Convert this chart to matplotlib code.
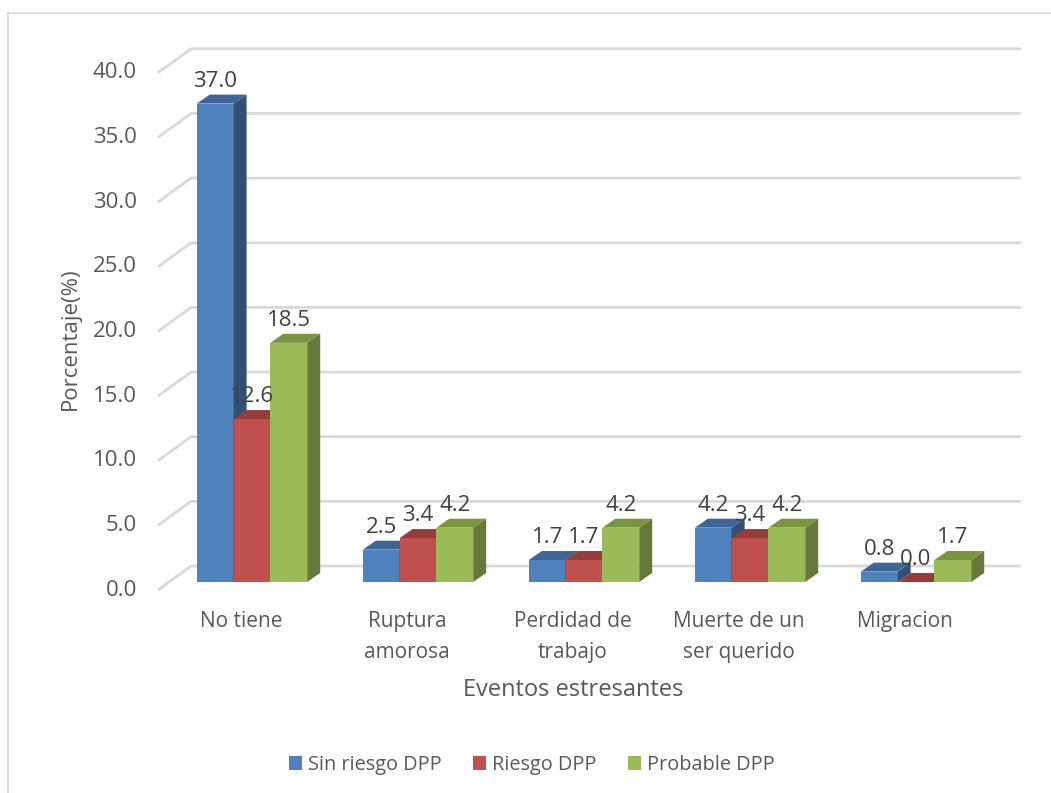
import matplotlib
matplotlib.use('Agg')
import matplotlib.pyplot as plt
from matplotlib.patches import Polygon, Patch
from matplotlib.lines import Line2D

# data
CATEGORIES = ['No tiene', 'Ruptura\namorosa', 'Perdidad de\ntrabajo',
              'Muerte de un\nser querido', 'Migracion']
SERIES = ['Sin riesgo DPP', 'Riesgo DPP', 'Probable DPP']
SIN_RIESGO = [37.0, 2.5, 1.7, 4.2, 0.8]
RIESGO = [12.6, 3.4, 1.7, 3.4, 0.0]
PROBABLE = [18.5, 4.2, 4.2, 4.2, 1.7]
YTICKS = [0, 5, 10, 15, 20, 25, 30, 35, 40]

# colours: front, top, side
C_BLUE = ('#4F81BD', '#3D6697', '#324F74')
C_RED = ('#C0504D', '#963C3A', '#86332F')
C_GREEN = ('#9BBB59', '#7A9440', '#66793A')
TXT = '#595959'
GRID = '#D9D9D9'
FONT = ['Open Sans', 'DejaVu Sans']

plt.rcParams['font.family'] = FONT

W, H = 1051, 793
fig = plt.figure(figsize=(W / 100, H / 100), dpi=100)
ax = fig.add_axes([0, 0, 1, 1])

# scale: 1 category = 166 px, 1 unit = 12.93 px
PXX = 1 / 166.0
PXY = 1 / 12.93
ax.set_xlim(-241 * PXX, (W - 241) * PXX)
ax.set_ylim(-(H - 590) * PXY, 590 * PXY)
ax.axis('off')

# 3D offsets (in data units)
BACK_DX, BACK_DY = 33 * PXX, 24 * PXY
FRONT_DX, FRONT_DY = 11 * PXX, 8 * PXY
SIDE_DX, SIDE_DY = 13 * PXX, 9 * PXY
BAR_W = 36.8 * PXX

n = len(CATEGORIES)
x_left, x_right = -0.5, n - 0.5

# walls / gridlines
for v in YTICKS:
    ax.plot([x_left, x_left + BACK_DX, x_right + BACK_DX],
            [v, v + BACK_DY, v + BACK_DY], color=GRID, lw=2, zorder=1,
            solid_capstyle='butt')
    ax.text(x_left - 21 * PXX, v, f'{v:.1f}', ha='right', va='center',
            fontsize=16, color=TXT)


def bar3d(x0, v, colors):
    front, top, side = colors
    xa = x0 + FRONT_DX
    xb = xa + BAR_W
    y0 = FRONT_DY
    y1 = v + FRONT_DY
    ax.add_patch(Polygon([(xa, y0), (xb, y0), (xb, y1), (xa, y1)],
                         closed=True, fc=front, ec='none', zorder=3))
    ax.add_patch(Polygon([(xb, y0), (xb + SIDE_DX, y0 + SIDE_DY),
                          (xb + SIDE_DX, y1 + SIDE_DY), (xb, y1)],
                         closed=True, fc=side, ec='none', zorder=3))
    ax.add_patch(Polygon([(xa, y1), (xb, y1), (xb + SIDE_DX, y1 + SIDE_DY),
                          (xa + SIDE_DX, y1 + SIDE_DY)],
                         closed=True, fc=top, ec='none', zorder=3))
    return (xa + xb) / 2, y1 + SIDE_DY


series_vals = [SIN_RIESGO, RIESGO, PROBABLE]
series_cols = [C_BLUE, C_RED, C_GREEN]
labels = []
for i in range(n):
    for k, (vals, cols) in enumerate(zip(series_vals, series_cols)):
        x0 = i - 1.5 * BAR_W + k * BAR_W
        cx, ytop = bar3d(x0, vals[i], cols)
        labels.append((cx, ytop, vals[i]))

for cx, ytop, v in labels:
    ax.annotate(f'{v:.1f}', (cx, ytop), xytext=(0, 2), textcoords='offset points',
                ha='center', va='bottom', fontsize=16, color='#404040', zorder=5)

# category labels
for i, c in enumerate(CATEGORIES):
    ax.text(i, -(611 - 590) * PXY, c, ha='center', va='top', fontsize=15,
            color=TXT, linespacing=1.6)

ax.text(2, -(690 - 590) * PXY, 'Eventos estresantes', ha='center', va='center',
        fontsize=17, color=TXT)
ax.text(-(241 - 70) * PXX, (590 - 339) * PXY, 'Porcentaje(%)', rotation=90,
        ha='center', va='center', fontsize=16, color=TXT)

# legend
handles = [Patch(fc=c[0], ec='none') for c in series_cols]
fig.legend(handles, SERIES, loc='center', bbox_to_anchor=(532 / W, 1 - 765 / H),
           ncol=3, frameon=False, fontsize=14.3, labelcolor=TXT,
           handlelength=0.65, handleheight=0.65, handletextpad=0.3,
           columnspacing=1.6)

# chart border (top and left visible)
fig.add_artist(Line2D([8 / W, 8 / W], [0, 1 - 13 / H], color=GRID, lw=1.2,
                      transform=fig.transFigure))
fig.add_artist(Line2D([8 / W, 1], [1 - 13 / H, 1 - 13 / H], color=GRID, lw=1.2,
                      transform=fig.transFigure))

fig.savefig('out.png', dpi=100)
